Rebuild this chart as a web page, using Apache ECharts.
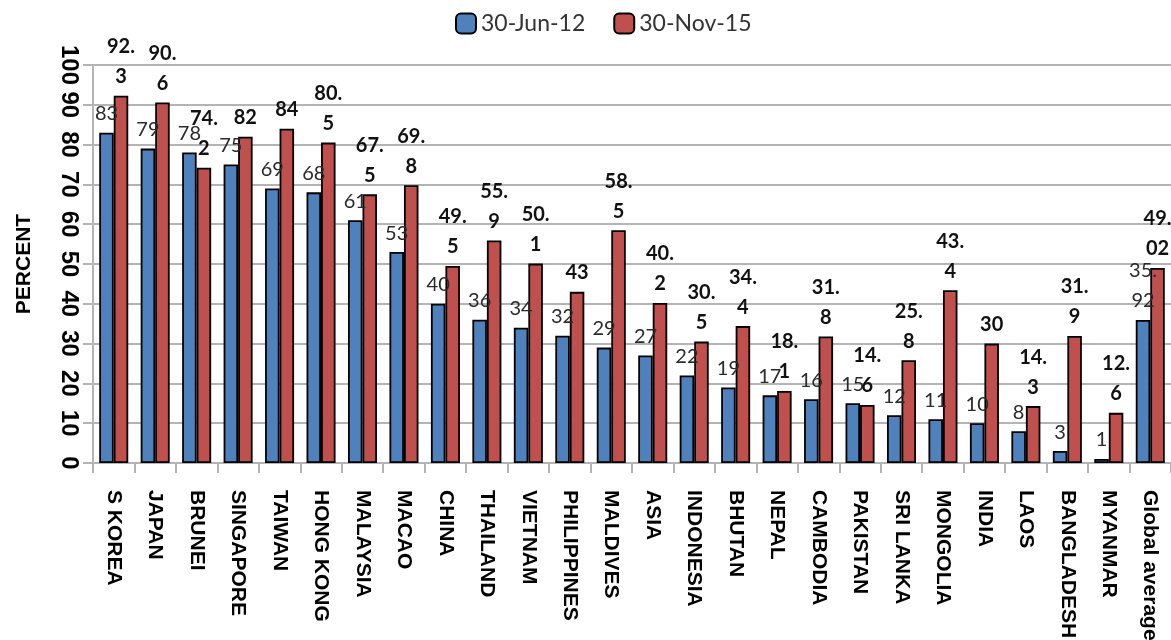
<!DOCTYPE html>
<html>
<head>
<meta charset="utf-8">
<script src="https://cdn.jsdelivr.net/npm/echarts@6/dist/echarts.min.js"></script>
<style>
  html, body { margin: 0; padding: 0; background: #fff; }
  #chart { width: 1171px; height: 640px; }
</style>
</head>
<body>
<div id="chart"></div>
<script>
// Categories along the x axis
const categories = [
  'S KOREA', 'JAPAN', 'BRUNEI', 'SINGAPORE', 'TAIWAN', 'HONG KONG', 'MALAYSIA',
  'MACAO', 'CHINA', 'THAILAND', 'VIETNAM', 'PHILIPPINES', 'MALDIVES', 'ASIA',
  'INDONESIA', 'BHUTAN', 'NEPAL', 'CAMBODIA', 'PAKISTAN', 'SRI LANKA',
  'MONGOLIA', 'INDIA', 'LAOS', 'BANGLADESH', 'MYANMAR', 'Global average'
];

// Percent values, 30 June 2012
const jun12 = [
  83, 79, 78, 75, 69, 68, 61, 53, 40, 36, 34, 32, 29, 27,
  22, 19, 17, 16, 15, 12, 11, 10, 8, 3, 1, 35.92
];

// Percent values, 30 November 2015
const nov15 = [
  92.3, 90.6, 74.2, 82, 84, 80.5, 67.5, 69.8, 49.5, 55.9, 50.1, 43, 58.5, 40.2,
  30.5, 34.4, 18.1, 31.8, 14.6, 25.8, 43.4, 30, 14.3, 31.9, 12.6, 49.02
];

const seriesNames = ['30-Jun-12', '30-Nov-15'];

// Value labels break after the decimal point, as in narrow label boxes
function wrapValue(p) {
  const s = String(p.value);
  const i = s.indexOf('.');
  return i < 0 ? s : s.slice(0, i + 1) + '\n' + s.slice(i + 1);
}

const gridGrey = '#b4b4b4';

const chart = echarts.init(document.getElementById('chart'));
chart.setOption({
  animation: false,
  backgroundColor: '#ffffff',
  legend: {
    left: 450,
    top: 7,
    itemWidth: 20,
    itemHeight: 20,
    itemGap: 28,
    textStyle: { fontFamily: 'Lato', fontSize: 23, color: '#333333' },
    data: seriesNames
  },
  grid: { left: 93, right: 0, top: 65, bottom: 177, outerBoundsMode: 'none' },
  xAxis: {
    type: 'category',
    data: categories,
    axisLine: { lineStyle: { color: gridGrey, width: 2 } },
    axisTick: { show: true, interval: 0, length: 10, lineStyle: { color: gridGrey, width: 2 } },
    axisLabel: {
      interval: 0,
      rotate: -90,
      margin: 27,
      fontFamily: 'Liberation Sans',
      fontWeight: 'bold',
      fontSize: 21,
      color: '#000000'
    }
  },
  yAxis: {
    type: 'value',
    min: 0,
    max: 100,
    interval: 10,
    name: 'PERCENT',
    nameLocation: 'middle',
    nameGap: 58,
    nameTextStyle: { fontFamily: 'Liberation Sans', fontWeight: 'bold', fontSize: 21, color: '#000000' },
    axisLine: { show: true, lineStyle: { color: gridGrey, width: 2 } },
    axisTick: { show: true, length: 10, lineStyle: { color: gridGrey, width: 2 } },
    splitLine: { lineStyle: { color: gridGrey, width: 2 } },
    axisLabel: {
      rotate: -90,
      margin: 12,
      fontFamily: 'Liberation Sans',
      fontWeight: 'bold',
      fontSize: 24,
      color: '#000000'
    }
  },
  series: [
    {
      name: seriesNames[0],
      type: 'bar',
      data: jun12,
      barGap: '0%',
      barCategoryGap: '30%',
      itemStyle: { color: '#4f81bd', borderColor: '#000000', borderWidth: 1.8 },
      label: {
        show: true,
        position: 'top',
        distance: 4,
        formatter: wrapValue,
        fontFamily: 'Lato',
        fontSize: 20,
        lineHeight: 30,
        color: '#2a2a2a'
      }
    },
    {
      name: seriesNames[1],
      type: 'bar',
      data: nov15,
      barGap: '0%',
      barCategoryGap: '30%',
      itemStyle: { color: '#c0504d', borderColor: '#000000', borderWidth: 1.8 },
      label: {
        show: true,
        position: 'top',
        distance: 4,
        formatter: wrapValue,
        fontFamily: 'Lato',
        fontWeight: 'bold',
        fontSize: 20,
        lineHeight: 30,
        color: '#111111'
      }
    }
  ]
});
</script>
</body>
</html>
